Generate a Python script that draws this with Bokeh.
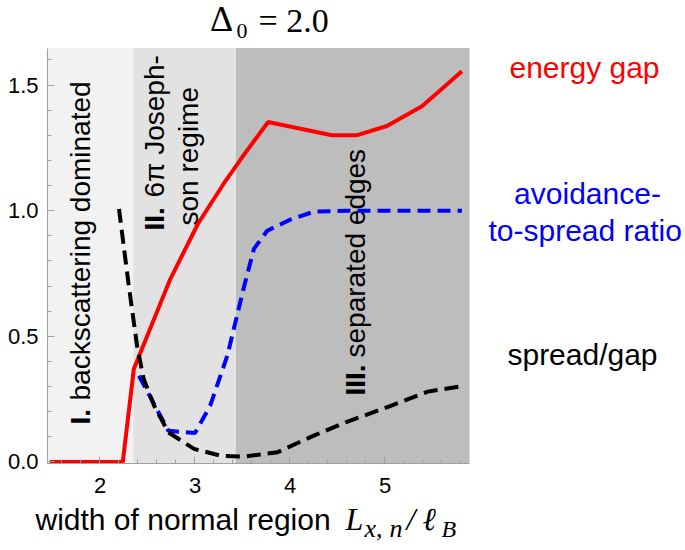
import numpy as np
from bokeh.plotting import figure
from bokeh.models import Range1d, BoxAnnotation, Label, FixedTicker, PrintfTickFormatter
from bokeh.embed import file_html
from bokeh.resources import INLINE

# ---- data ----
gap_x = [1.47, 2.24, 2.356, 2.74, 3.03, 3.32, 3.52, 3.77, 4.44, 4.70, 5.02, 5.39, 5.81]
gap_y = [0.0, 0.0, 0.37, 0.728, 0.947, 1.118, 1.225, 1.353, 1.30, 1.30, 1.337, 1.416, 1.555]

ratio_x = [2.41, 2.72, 3.00, 3.16, 3.34, 3.51, 3.62, 3.76, 4.00, 4.25, 4.60, 5.81]
ratio_y = [0.343, 0.124, 0.115, 0.224, 0.423, 0.688, 0.848, 0.92, 0.964, 0.996, 1.0, 1.0]

spread_x = [2.20, 2.30, 2.39, 2.46, 2.57, 2.72, 2.99, 3.27, 3.51, 3.87, 4.25, 4.60, 5.06, 5.45, 5.82]
spread_y = [1.007, 0.71, 0.463, 0.33, 0.224, 0.118, 0.052, 0.025, 0.021, 0.039, 0.105, 0.16, 0.223, 0.28, 0.302]

x_lo, x_hi = 1.4474, 5.8895          # plotted x extent
y_lo, y_hi = -0.006, 1.647           # plotted y extent
region_edges = [2.35, 3.43]          # I | II | III boundaries
region_colors = ["#f2f2f2", "#e2e2e2", "#bdbdbd"]

x_ticks = [2, 3, 4, 5]
y_ticks = [0.0, 0.5, 1.0, 1.5]

# ---- one figure whose frame fills the canvas; axes are pinned with fixed_location
W, H = 685, 550
LEFT, BOTTOM = 47, 463               # page pixel of x_lo / y_lo
PX_X, PX_Y = 95.0, 251.3             # pixels per data unit
x0 = x_lo - LEFT / PX_X
y0 = y_lo - (H - BOTTOM) / PX_Y
p = figure(width=W, height=H, output_backend="svg", toolbar_location=None,
           x_range=Range1d(x0, x0 + W / PX_X), y_range=Range1d(y0, y0 + H / PX_Y),
           min_border=0, min_border_left=0, min_border_right=0,
           min_border_top=0, min_border_bottom=0)
p.outline_line_color = None
p.xgrid.visible = False
p.ygrid.visible = False
p.background_fill_color = "white"
p.border_fill_color = "white"

# shaded regimes
p.add_layout(BoxAnnotation(left=x_lo, right=region_edges[0], bottom=y_lo, top=y_hi,
                           fill_color=region_colors[0], fill_alpha=1,
                           line_color=None, level="underlay"))
p.add_layout(BoxAnnotation(left=region_edges[0], right=region_edges[1], bottom=y_lo,
                           top=y_hi, fill_color=region_colors[1], fill_alpha=1,
                           line_color=None, level="underlay"))
p.add_layout(BoxAnnotation(left=region_edges[1], right=x_hi, bottom=y_lo, top=y_hi,
                           fill_color=region_colors[2], fill_alpha=1,
                           line_color=None, level="underlay"))

# axes
for ax, ticks, minor, fmt, bnds, loc in [
        (p.xaxis[0], x_ticks, list(np.round(np.arange(1.6, 5.81, 0.2), 2)), "%d",
         (x_lo, x_hi), y_lo),
        (p.yaxis[0], y_ticks, list(np.round(np.arange(0.1, 1.65, 0.1), 2)), "%.1f",
         (y_lo, y_hi), x_lo)]:
    ax.ticker = FixedTicker(ticks=ticks, minor_ticks=minor)
    ax.formatter = PrintfTickFormatter(format=fmt)
    ax.bounds = bnds
    ax.fixed_location = loc
    ax.major_label_text_font = "Liberation Sans"
    ax.major_label_text_font_size = "22px"
    ax.major_label_text_color = "black"
    ax.axis_line_color = "#a0a0a0"
    ax.major_tick_line_color = "#a0a0a0"
    ax.minor_tick_line_color = "#a0a0a0"
    ax.major_tick_in = 7
    ax.major_tick_out = 0
    ax.minor_tick_in = 4
    ax.minor_tick_out = 0
p.xaxis.major_label_standoff = 14
p.yaxis.major_label_standoff = 9

SANS_MID, SERIF_MID = 0.3465, 0.3375   # baseline -> middle, in em


def m(text, X, Y, size, color="black", font="Liberation Sans", style="normal",
      align="left", angle=0, level="annotation", base=True):
    # X, Y: target position on the page; Y is the text baseline unless base=False
    if base:
        Y = Y - (SERIF_MID if "Serif" in font else SANS_MID) * size
    p.add_layout(Label(x=X, y=H - Y, x_units="screen", y_units="screen",
                       text=text, text_font=font, text_font_size=f"{size}px",
                       text_color=color, text_font_style=style, text_align=align,
                       text_baseline="middle", angle=angle, angle_units="deg",
                       level=level))


# region labels (rotated; X is the centre line of the text)
R = dict(angle=90, level="underlay", base=False)
m("I.", 80, 424, 28, style="bold", **R)
m("backscattering dominated", 80, 400, 28, **R)
m("II.", 154, 230, 28, style="bold", **R)
m("6π Joseph-", 154, 197, 28, **R)
m("son regime", 188, 225, 28, **R)
m("III.", 355, 395, 28, style="bold", **R)
m("separated edges", 355, 357, 28, **R)

# curves
p.line(gap_x, gap_y, line_color="#ff0000", line_width=4)
p.line(ratio_x, ratio_y, line_color="#0000ff", line_width=4, line_dash="13 7")
p.line(spread_x, spread_y, line_color="black", line_width=4, line_dash="14 7")

# series labels on the right
m("energy gap", 584, 77, 30, color="#ff0000", align="center")
m("avoidance-", 587, 203, 30, color="#0000ff", align="center")
m("to-spread ratio", 488, 240, 30, color="#0000ff")
m("spread/gap", 582, 364, 30, color="black", align="center")

# title  Δ0 = 2.0
m("Δ", 221, 31, 36, font="Liberation Serif", align="center")
m("0", 236, 38, 22, font="Liberation Serif")
m("= 2.0", 258, 31, 34, font="Liberation Serif")

# x-axis title
m("width of normal region", 35, 529, 30)
m("L", 345, 529, 32, font="Liberation Serif", style="italic")
m("x,", 364, 537, 26, font="Liberation Serif", style="italic")
m("n", 389, 537, 26, font="Liberation Serif", style="italic")
m("/", 406, 529, 32, font="Liberation Serif", style="italic")
m("ℓ", 422, 529, 32, font="Liberation Serif", style="italic")
m("B", 441, 537, 24, font="Liberation Serif", style="italic")

open("out.html", "w").write(file_html(p, INLINE))
